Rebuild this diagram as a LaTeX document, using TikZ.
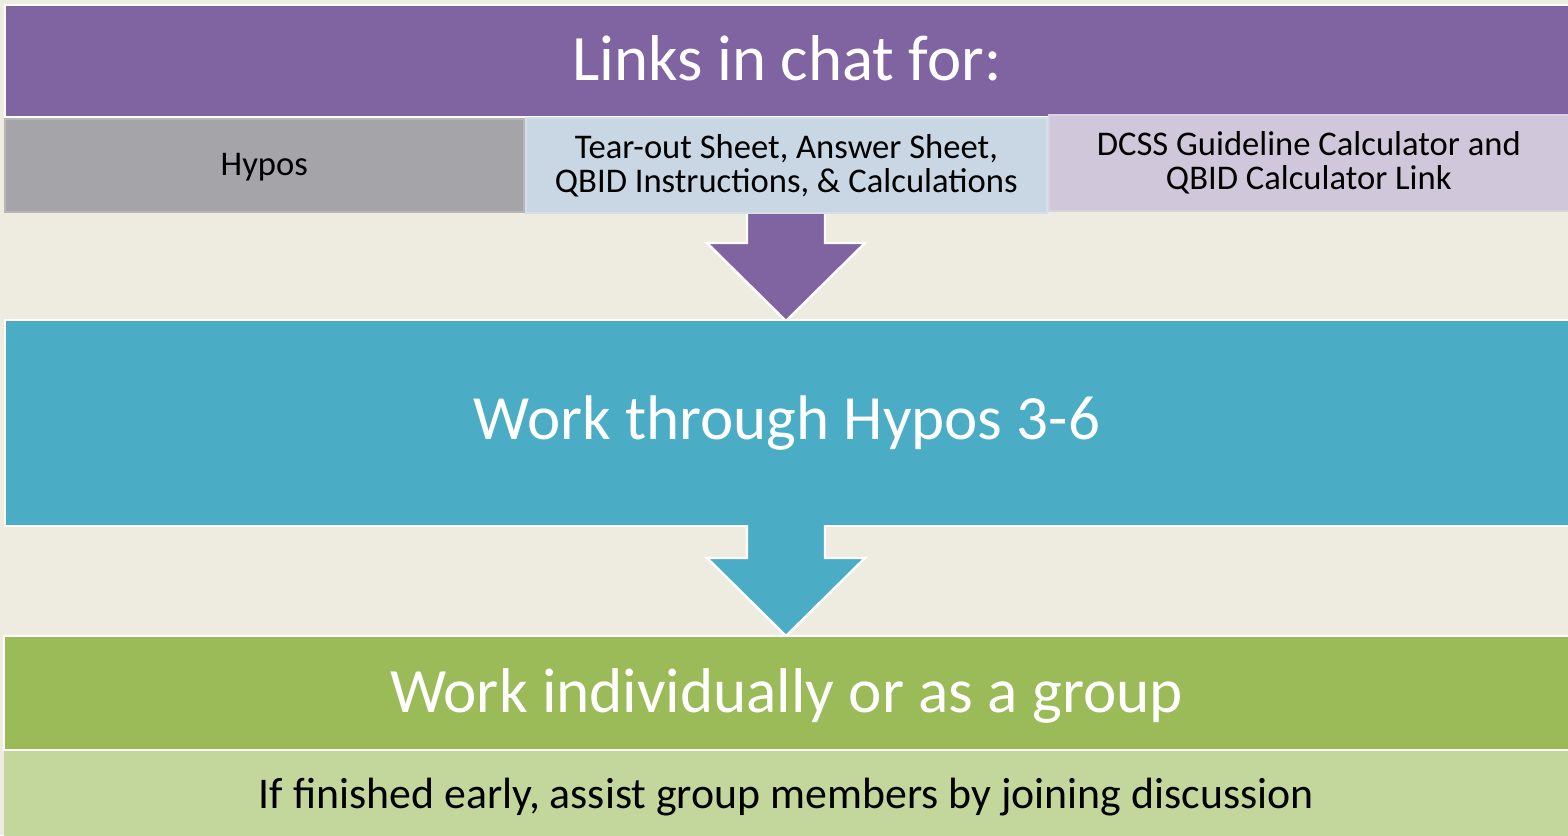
\documentclass[tikz,border=0pt]{standalone}
\usepackage{fontspec}
\setmainfont{Carlito}
\definecolor{bgc}{HTML}{EEECE1}
\definecolor{purp}{HTML}{8064A2}
\definecolor{grayb}{HTML}{A5A4A8}
\definecolor{blueb}{HTML}{C8D7E3}
\definecolor{lavb}{HTML}{D0C7DB}
\definecolor{teal}{HTML}{4BACC6}
\definecolor{greenb}{HTML}{9BBB59}
\definecolor{lgreen}{HTML}{C3D69B}
\newcommand{\shiftv}[2]{\raisebox{#1}[\height][\depth]{#2}}
\begin{document}
\begin{tikzpicture}[x=0.5pt,y=-0.5pt,
  band/.style={draw=white,line width=1pt,inner sep=0pt,anchor=north west,font=\fontsize{32}{36}\selectfont,text=white},
  sub/.style={draw=#1!80!white,line width=0.8pt,inner sep=0pt,anchor=north west,align=center,font=\fontsize{17.3}{17}\selectfont,text=black},
  arrowline/.style={draw=white,line width=1.2pt}]
\fill[bgc] (0,0) rectangle (1568,835);
\useasboundingbox (0,0) rectangle (1568,835);
% top band
\node[band,fill=purp,minimum width=782pt,minimum height=56pt,font=\fontsize{32.4}{36}\selectfont] (links) at (4,4) {\shiftv{1.5pt}{Links in chat for:}};
\node[sub=grayb,fill=grayb,minimum width=259.5pt,minimum height=46.5pt] (hypos) at (4,118) {\shiftv{-1pt}{Hypos}};
% arrow 1
\coordinate (a1) at (747,212);
\coordinate (a1t) at (786,321);
\fill[purp] (a1) -- (747,243) -- (707,243) -- (a1t) -- (865,243) -- (825,243) -- (825,212) -- cycle;
\draw[arrowline] (a1) -- (747,243) -- (707,243) -- (a1t) -- (865,243) -- (825,243) -- (825,212);
\node[sub=blueb,fill=blueb,minimum width=260.5pt,minimum height=47.5pt] (sheets) at (525,117) {Tear-out Sheet, Answer Sheet,\\QBID Instructions, \& Calculations};
\node[sub=lavb,fill=lavb,minimum width=260pt,minimum height=48pt] (dcss) at (1048,114) {DCSS Guideline Calculator and\\QBID Calculator Link};
% middle band
\node[band,fill=teal,minimum width=782pt,minimum height=103pt,font=\fontsize{31.5}{36}\selectfont] (work) at (4,319) {Work through Hypos 3-6};
\coordinate (a2) at (747,525);
\coordinate (a2t) at (786,636);
\fill[teal] (a2) -- (747,558) -- (707,558) -- (a2t) -- (865,558) -- (825,558) -- (825,525) -- cycle;
\draw[arrowline] (a2) -- (747,558) -- (707,558) -- (a2t) -- (865,558) -- (825,558) -- (825,525);
% bottom band
\node[band,fill=greenb,minimum width=782.5pt,minimum height=57pt,font=\fontsize{31.6}{36}\selectfont] (indiv) at (3,635) {\shiftv{-1.5pt}{Work individually or as a group}};
\node[sub=lgreen,fill=lgreen,draw=none,minimum width=782.5pt,minimum height=43pt,font=\fontsize{21.9}{24}\selectfont] (early) at (3,750) {\shiftv{-1.5pt}{If finished early, assist group members by joining discussion}};
\end{tikzpicture}
\end{document}
